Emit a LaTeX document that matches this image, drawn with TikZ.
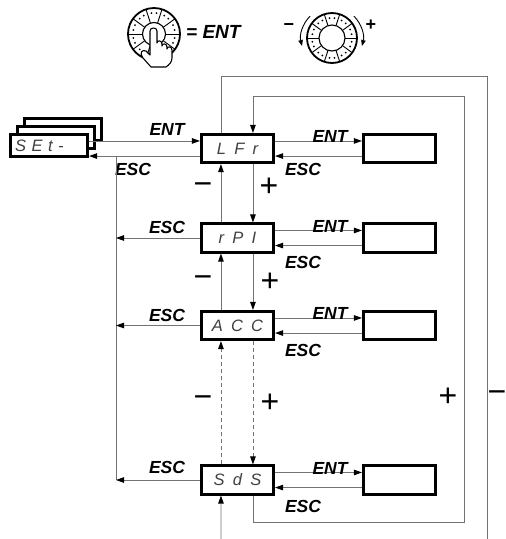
\documentclass[tikz,border=0pt]{standalone}
\usepackage{fontspec}
\setmainfont{Liberation Sans}
\newfontfamily\segfont[LetterSpace=22]{Liberation Sans}
\usetikzlibrary{arrows.meta}
\begin{document}
\begin{tikzpicture}[x=1pt,y=-1pt,
  conn/.style={draw=black!55, line width=0.9pt},
  arr/.style={conn, -{Triangle[length=8pt,width=5.5pt,color=black]}},
  darr/.style={arr, dash pattern=on 4pt off 3pt},
  menubox/.style={draw=black, line width=2.6pt, fill=white, minimum width=72.5pt, minimum height=28.5pt, inner sep=0pt, font=\segfont\itshape\fontsize{16.5}{16.5}\selectfont, text=black!75},
  setbox/.style={menubox, minimum width=77.5pt, minimum height=22.5pt},
  lbl/.style={font=\bfseries\itshape\fontsize{17.5}{17.5}\selectfont, inner sep=0pt},
  sign/.style={font=\fontsize{32}{32}\selectfont, inner sep=0pt},
  smallsign/.style={font=\bfseries\fontsize{18}{18}\selectfont, inner sep=0pt},
]
\useasboundingbox (0,0) rectangle (506,539);

% ---------- top icons ----------
% push dial
\draw[line width=1.8pt] (154,34) circle (26pt);
\draw[line width=1.1pt] (154,34) circle (11.5pt);
\foreach \a in {0,36,...,324} \draw[line width=0.9pt] (154,34) ++(\a:11.5) -- ++(\a:14.5);
\foreach \a in {18,54,...,342} {
  \fill (154,34) ++(\a+7:21) circle (1pt);
  \fill (154,34) ++(\a-7:21) circle (1pt);
}
\draw[line width=1.1pt, fill=white, line join=round]
  (150,55) -- (150,31) .. controls (150,27) and (157,27) .. (157,31) -- (157,43)
  .. controls (157,40) and (162,40) .. (162,44) -- (162,46)
  .. controls (162,43) and (167,43) .. (167,47) -- (167,49)
  .. controls (167,46) and (172,46) .. (172,50) -- (172,58)
  .. controls (172,62) and (169,65) .. (166,67) -- (151,67)
  -- (143,58) .. controls (139,53) and (142,49) .. (146,51) -- cycle;
\node[lbl, font=\bfseries\itshape\fontsize{19}{19}\selectfont, anchor=west] (entkey) at (186,32) {= ENT};

% turn dial
\draw[line width=1.8pt] (332,38) circle (25pt);
\draw[line width=1.1pt] (332,38) circle (13pt);
\foreach \a in {0,36,...,324} \draw[line width=0.9pt] (332,38) ++(\a:13) -- ++(\a:12);
\foreach \a in {18,54,...,342} {
  \fill (332,38) ++(\a+7:20) circle (1pt);
  \fill (332,38) ++(\a-7:20) circle (1pt);
}
\draw[line width=0.9pt, -{Triangle[length=6pt,width=4.5pt]}] (310.1,16.1) arc[start angle=135, end angle=195, radius=31pt];
\draw[line width=0.9pt, -{Triangle[length=6pt,width=4.5pt]}] (353.9,16.1) arc[start angle=45, end angle=-15, radius=31pt];
\node[smallsign] (dm) at (289,27) {−};
\node[smallsign] (dp) at (371,25) {+};

% ---------- SEt stack ----------
\node[setbox] (set3) at (63,129.5) {};
\node[setbox] (set2) at (56,137.5) {};
\node[setbox, text width=72pt, align=left] (set1) at (49,145.5) {\hspace*{2pt}S E t  -};

% ---------- menu boxes ----------
\node[menubox] (lfr) at (237.5,148.5) {L F r};
\node[menubox] (rpi) at (237.5,238) {r P I};
\node[menubox] (acc) at (237.5,325.5) {A C C};
\node[menubox] (sds) at (237.5,480) {S d S};
\node[menubox] (b1) at (399.5,148.5) {};
\node[menubox] (b2) at (399.5,238) {};
\node[menubox] (b3) at (399.5,325.5) {};
\node[menubox] (b4) at (399.5,480) {};

% ---------- SEt <-> LFr ----------
\draw[arr] ([yshift=-8pt]set1.north east) -- ([yshift=-8pt]lfr.north west);
\coordinate (lesc) at ([yshift=8pt]lfr.south west);
\draw[arr] (lesc) -- (lesc -| set1.east);
\node[lbl] (lent) at (167,129) {ENT};
\node[lbl] (lesclbl) at (133,169) {ESC};

% ---------- left ESC bus ----------
\coordinate (vl) at (116,156);
\draw[conn] (vl) -- (sds.west -| vl);
\draw[arr] (rpi.west) -- (rpi.west -| vl);
\draw[arr] (acc.west) -- (acc.west -| vl);
\draw[arr] (sds.west) -- (sds.west -| vl);
\node[lbl] (e2) at (167,227) {ESC};
\node[lbl] (e3) at (167,315) {ESC};
\node[lbl] (e4) at (167,467) {ESC};

% ---------- right ENT / ESC ----------
\foreach \m/\b/\ey in {lfr/b1/169, rpi/b2/262, acc/b3/350, sds/b4/506} {
  \draw[arr] ([yshift=-8pt]\m.north east) -- ([yshift=-8pt]\b.north west);
  \draw[arr] ([yshift=8pt]\b.south west) -- ([yshift=8pt]\m.south east);
  \node[lbl] at ([yshift=-4pt]\m.north east -| 330,0) {ENT};
  \node[lbl] at (303,\ey) {ESC};
}

% ---------- vertical - / + ----------
\draw[arr] ([xshift=21pt]rpi.north west) -- ([xshift=21pt]lfr.south west);
\draw[arr] ([xshift=53pt]lfr.south west) -- ([xshift=53pt]rpi.north west);
\draw[arr] ([xshift=21pt]acc.north west) -- ([xshift=21pt]rpi.south west);
\draw[arr] ([xshift=53pt]rpi.south west) -- ([xshift=53pt]acc.north west);
\draw[darr] ([xshift=21pt]sds.north west) -- ([xshift=21pt]acc.south west);
\draw[darr] ([xshift=53pt]acc.south west) -- ([xshift=53pt]sds.north west);
\coordinate (bot) at (221,540);
\draw[arr] (bot) -- ([xshift=21pt]sds.south west);

\node[sign] (m1) at (203,189) {−};
\node[sign] (p1) at (269,187) {+};
\node[sign] (m2) at (203,282) {−};
\node[sign] (p2) at (270,282) {+};
\node[sign] (m3) at (203,402) {−};
\node[sign] (p3) at (270,403) {+};

% ---------- loops ----------
\coordinate (ia) at (464,522);
\coordinate (ib) at (464,96);
\draw[arr] ([xshift=53pt]sds.south west) |- (ia) -- (ib) -| ([xshift=53pt]lfr.north west);
\coordinate (oa) at (487,76);
\coordinate (ob) at (487,540);
\draw[conn] ([xshift=21pt]lfr.north west) |- (oa) -- (ob);
\node[sign] (pl) at (448,397) {+};
\node[sign] (ml) at (497,397) {−};
\end{tikzpicture}
\end{document}
